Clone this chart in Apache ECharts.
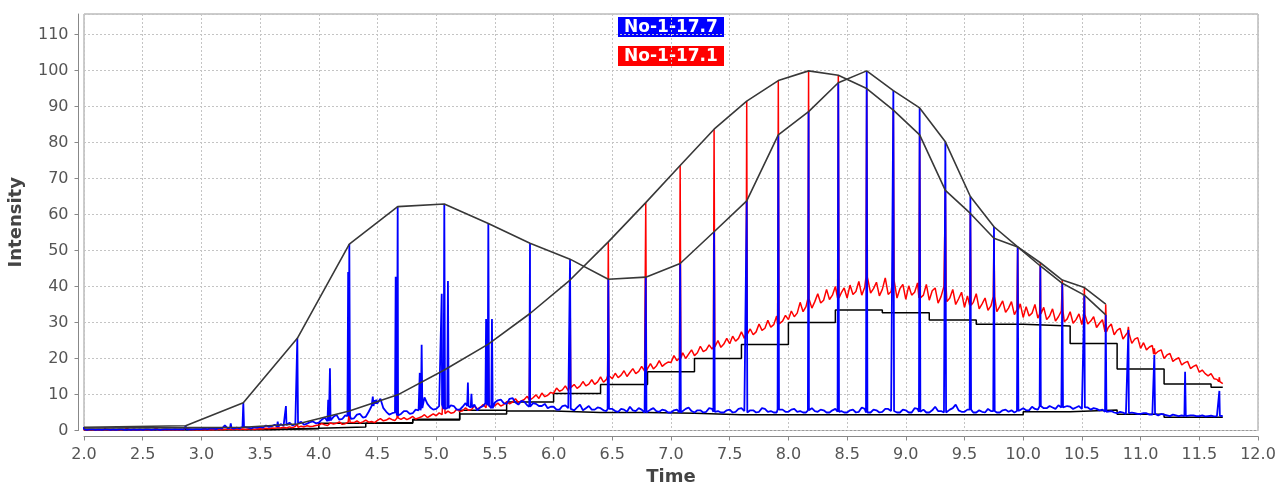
<!DOCTYPE html>
<html>
<head>
<meta charset="utf-8">
<script src="https://cdn.jsdelivr.net/npm/echarts@6/dist/echarts.min.js"></script>
<style>
  html, body { margin: 0; padding: 0; background: #fff; }
  #main { width: 1287px; height: 487px; }
</style>
</head>
<body>
<div id="main"></div>
<script>
// baselines, one reading every 0.025 time units from 2.000 to 11.700
const sampleStart = 2.0
const sampleStep = 0.025

const blueBase = [
  0.3, 0.2, 0.3, 0.3, 0.2, 0.3, 0.2, 0.3, 0.3, 0.2, 0.3, 0.2, 0.3, 0.3, 0.2, 0.3, 0.2, 0.3, 0.2, 0.3,
  0.2, 0.3, 0.3, 0.2, 0.3, 0.3, 0.2, 0.3, 0.4, 0.3, 0.3, 0.4, 0.3, 0.4, 0.3, 0.3, 0.4, 0.3, 0.4, 0.4,
  0.4, 0.5, 0.4, 0.5, 0.6, 0.4, 0.7, 0.5, 1.4, 0.6, 0.7, 0.5, 0.8, 0.6, 1.0, 0.7, 0.8, 0.6, 0.9, 0.8,
  1.0, 0.8, 1.4, 1.0, 1.2, 1.6, 1.1, 1.8, 1.3, 1.5, 2.2, 1.4, 1.7, 2.0, 2.4, 1.6, 1.9, 2.3, 2.5, 2.0,
  2.2, 3.0, 3.6, 2.6, 2.8, 3.8, 4.4, 3.0, 3.2, 4.2, 4.0, 3.2, 3.4, 4.4, 4.6, 3.6, 3.8, 5.2, 6.8, 8.4,
  7.4, 8.8, 6.2, 5.2, 4.4, 4.8, 5.0, 4.2, 4.6, 5.4, 5.4, 4.6, 4.8, 5.8, 5.6, 6.2, 9.2, 7.4, 6.4, 5.8,
  6.0, 6.8, 7.2, 6.0, 6.2, 7.0, 6.8, 5.8, 5.8, 6.6, 7.6, 6.8, 6.4, 7.2, 5.6, 6.4, 6.8, 7.6, 7.0, 6.2,
  7.8, 8.4, 8.6, 7.6, 7.4, 8.8, 9.0, 7.8, 7.2, 8.2, 8.0, 7.0, 6.6, 7.6, 7.4, 6.8, 6.8, 7.4, 6.2, 6.6,
  6.6, 5.8, 5.8, 6.8, 7.0, 6.2, 6.0, 5.6, 6.4, 7.2, 5.6, 6.2, 6.8, 5.8, 5.8, 6.4, 6.2, 5.6, 5.4, 6.0,
  6.0, 5.4, 5.2, 6.0, 5.8, 5.2, 6.6, 5.6, 5.4, 6.2, 5.8, 5.0, 5.0, 5.8, 6.2, 5.4, 5.2, 5.8, 5.6, 5.0,
  5.0, 5.6, 5.8, 5.0, 5.2, 6.0, 6.4, 5.4, 5.0, 5.6, 5.6, 5.0, 5.2, 6.2, 6.0, 5.2, 5.4, 5.0, 5.0, 5.6,
  5.8, 5.0, 5.2, 6.0, 6.2, 5.4, 5.0, 5.6, 5.6, 5.0, 5.2, 6.2, 6.0, 5.2, 5.4, 5.0, 5.0, 5.8, 5.8, 5.2,
  5.2, 5.8, 6.0, 5.2, 5.4, 5.0, 5.0, 5.6, 6.2, 5.4, 5.2, 5.8, 5.6, 5.0, 5.0, 5.6, 6.0, 5.2, 5.4, 5.0,
  5.0, 5.6, 5.8, 5.0, 5.2, 6.4, 6.0, 5.0, 5.0, 5.8, 5.6, 5.0, 5.2, 6.0, 6.0, 5.4, 5.4, 5.0, 5.0, 5.8,
  5.6, 5.0, 5.0, 6.2, 6.0, 5.2, 5.8, 5.0, 5.0, 5.6, 6.6, 5.4, 5.4, 5.0, 5.0, 5.8, 6.2, 7.2, 5.6, 5.2,
  5.2, 5.8, 5.8, 5.0, 5.0, 5.6, 5.2, 5.0, 6.0, 5.4, 5.4, 5.0, 5.0, 5.6, 5.8, 5.2, 5.6, 5.0, 5.4, 5.8,
  6.2, 5.6, 5.6, 6.6, 6.0, 5.8, 6.8, 6.2, 6.2, 6.8, 6.4, 6.0, 7.0, 6.4, 6.2, 6.8, 6.6, 6.0, 6.4, 6.8,
  6.0, 6.4, 6.4, 5.8, 6.2, 6.0, 5.6, 5.8, 5.2, 5.6, 5.4, 5.0, 4.8, 5.2, 5.0, 4.6, 4.8, 5.0, 4.8, 4.6,
  4.6, 4.8, 4.8, 4.4, 4.4, 4.6, 4.2, 4.6, 4.4, 4.2, 4.0, 4.4, 4.2, 4.0, 4.2, 4.0, 4.0, 4.2, 4.2, 4.0,
  4.0, 4.2, 3.9, 4.0, 4.1, 3.9, 4.0, 4.1, 4.0
]

const redBase = [
  0.2, 0.3, 0.2, 0.2, 0.3, 0.2, 0.3, 0.2, 0.2, 0.3, 0.2, 0.2, 0.3, 0.2, 0.3, 0.2, 0.2, 0.3, 0.2, 0.2,
  0.2, 0.3, 0.2, 0.2, 0.3, 0.2, 0.2, 0.3, 0.2, 0.3, 0.2, 0.2, 0.3, 0.2, 0.2, 0.3, 0.2, 0.3, 0.2, 0.2,
  0.2, 0.3, 0.2, 0.3, 0.2, 0.3, 0.3, 0.2, 0.3, 0.4, 0.3, 0.3, 0.4, 0.3, 0.4, 0.3, 0.4, 0.5, 0.3, 0.4,
  0.5, 0.4, 0.6, 0.5, 0.7, 0.6, 0.8, 0.7, 0.9, 0.7, 1.0, 0.8, 1.1, 0.9, 1.2, 1.0, 1.3, 1.1, 1.2, 1.4,
  1.5, 1.9, 1.6, 1.4, 2.1, 1.8, 2.0, 2.4, 1.7, 1.9, 2.3, 2.0, 2.2, 2.7, 2.1, 2.4, 2.9, 2.3, 2.5, 2.2,
  2.8, 3.3, 2.7, 2.9, 3.4, 3.0, 2.8, 3.5, 3.1, 3.6, 3.0, 3.4, 3.9, 3.2, 3.5, 3.8, 4.4, 3.6, 4.1, 4.6,
  4.1, 4.9, 4.4, 4.7, 5.4, 4.8, 5.0, 5.9, 5.3, 5.5, 6.3, 5.6, 5.8, 6.8, 6.0, 6.4, 7.2, 6.3, 6.7, 6.5,
  6.9, 7.6, 6.8, 7.2, 8.0, 7.4, 7.9, 8.8, 7.8, 8.2, 8.6, 9.5, 8.5, 9.1, 9.9, 8.9, 10.4, 9.4, 9.8, 10.6,
  10.3, 11.8, 10.9, 11.3, 12.4, 11.1, 11.9, 12.8, 11.7, 12.3, 13.6, 12.4, 12.9, 14.1, 12.8, 13.5, 14.9, 13.4, 14.2, 15.2,
  14.4, 15.9, 14.7, 15.4, 16.6, 15.0, 16.1, 17.2, 15.8, 16.4, 17.8, 16.5, 17.2, 18.6, 17.1, 17.9, 19.4, 17.8, 18.5, 19.0,
  18.9, 20.8, 19.4, 20.1, 21.6, 20.0, 21.2, 22.4, 20.8, 21.6, 23.4, 21.9, 22.4, 23.8, 22.6, 23.2, 25.0, 23.1, 24.0, 25.6,
  24.1, 26.2, 24.8, 25.6, 27.4, 25.6, 26.8, 28.2, 26.6, 27.4, 29.6, 27.8, 28.4, 30.6, 28.7, 29.4, 31.8, 29.6, 30.4, 32.0,
  30.8, 33.2, 31.6, 32.6, 35.6, 33.0, 34.4, 36.6, 34.0, 35.8, 38.0, 35.4, 36.2, 39.2, 36.4, 37.6, 40.0, 36.8, 38.2, 39.6,
  36.8, 40.4, 37.8, 38.6, 41.4, 37.6, 39.8, 42.6, 38.2, 39.4, 41.2, 37.4, 39.2, 42.4, 37.8, 38.6, 41.8, 36.8, 39.4, 40.6,
  36.4, 40.2, 37.6, 38.4, 41.0, 36.8, 37.6, 40.6, 36.2, 38.8, 39.6, 35.4, 37.2, 40.0, 35.8, 36.8, 39.2, 35.0, 36.6, 38.4,
  34.2, 37.4, 34.8, 35.6, 38.0, 33.8, 35.2, 36.8, 33.4, 34.6, 37.2, 33.0, 34.4, 36.0, 32.8, 34.0, 35.8, 32.2, 33.6, 35.2,
  31.4, 34.4, 31.8, 32.6, 35.0, 31.2, 32.4, 34.2, 30.8, 31.8, 33.8, 30.4, 31.6, 33.2, 30.2, 31.0, 33.0, 29.8, 30.8, 32.4,
  29.4, 32.2, 29.6, 30.4, 31.6, 28.6, 29.8, 30.8, 27.4, 28.6, 29.6, 26.6, 27.8, 28.4, 25.4, 26.6, 27.2, 24.2, 25.4, 25.8,
  22.8, 24.4, 22.4, 23.2, 23.6, 21.2, 22.0, 22.4, 20.0, 21.0, 21.4, 19.2, 19.8, 20.2, 18.2, 18.8, 19.2, 17.2, 17.8, 18.2,
  16.2, 16.8, 15.8, 15.2, 15.8, 14.4, 14.2, 13.6, 13.0
]

// the regular peaks, same times in both runs
const spikeTimes = [
  2.0, 2.866, 3.357, 3.817, 4.260, 4.672, 5.069, 5.444, 5.799, 6.140,
  6.466, 6.785, 7.078, 7.367, 7.645, 7.914, 8.172, 8.425, 8.667, 8.894,
  9.118, 9.337, 9.550, 9.751, 9.953, 10.146, 10.333, 10.521, 10.703, 10.896,
  11.117, 11.379, 11.671
]
const blueTops = [
  0.9, 1.3, 7.7, 25.6, 51.8, 62.2, 62.9, 57.5, 52.0, 47.6,
  42.0, 42.6, 46.4, 55.2, 63.8, 82.1, 88.6, 96.6, 99.9, 94.4,
  89.6, 80.2, 65.0, 56.6, 51.0, 45.7, 40.9, 37.6, 32.1, 27.9,
  21.0, 16.3, 11.0
]
const redTops = [
  0.7, 0.8, 0.9, 1.8, 5.4, 9.9, 16.8, 24.0, 32.5, 41.8,
  52.4, 63.3, 73.6, 83.7, 91.5, 97.2, 99.9, 98.7, 95.0, 89.0,
  82.1, 66.7, 60.3, 53.4, 51.0, 46.6, 41.8, 39.7, 35.1, 28.8,
  22.8, 18.8, 14.8
]
// the black outlines join the first peaks only
const envelopeCount = 29

// smaller peaks
const blueExtraTimes = [3.25, 3.65, 3.72, 4.08, 4.095, 4.25, 4.46, 4.49, 4.535, 4.655, 4.86, 4.876, 5.047, 5.10, 5.27, 5.30, 5.425, 5.475]
const blueExtraTops = [2.0, 2.5, 6.8, 8.5, 17.3, 44.0, 9.4, 8.6, 9.3, 42.7, 16.0, 23.8, 38.0, 41.5, 13.3, 10.2, 31.0, 31.0]
const redExtraTimes = [2.18, 2.37, 2.51, 2.62]
const redExtraTops = [0.8, 0.8, 0.7, 0.8]

// step levels
const stepStarts = [2.0, 2.4, 2.8, 3.2, 3.6, 4.0, 4.4, 4.8, 5.2, 5.6, 6.0, 6.4, 6.8, 7.2, 7.6, 8.0, 8.4, 8.8, 9.2, 9.6, 10.0, 10.4, 10.8, 11.2, 11.6]
const stepEnd = 11.7
const redSteps = [0.2, 0.2, 0.2, 0.3, 0.6, 1.0, 2.0, 2.9, 5.6, 7.9, 10.3, 12.8, 16.3, 20.0, 23.9, 30.0, 33.5, 32.7, 30.7, 29.5, 29.0, 24.2, 17.1, 12.9, 12.0]
const blueSteps = [0.3, 0.3, 0.3, 0.3, 0.5, 2.0, 2.2, 3.1, 4.6, 5.4, 5.0, 5.0, 4.8, 4.4, 4.4, 4.4, 4.4, 4.4, 4.4, 4.4, 5.2, 5.7, 4.5, 3.7, 3.7]

const fontFamily = 'DejaVu Sans'

function trace(base, times, tops, extraTimes, extraTops) {
  let pts = base.map((v, i) => [+(sampleStart + i * sampleStep).toFixed(3), v])
  let add = (t, h) => {
    let b = base[Math.min(base.length - 1, Math.round((t - sampleStart) / sampleStep))]
    pts.push([t - 0.006, b], [t, h], [t + 0.006, b])
  }
  times.forEach((t, i) => add(t, tops[i]))
  extraTimes.forEach((t, i) => add(t, extraTops[i]))
  return pts.sort((a, b) => a[0] - b[0])
}

function steps(levels) {
  let pts = stepStarts.map((x, i) => [x, levels[i]])
  pts.push([stepEnd, levels[levels.length - 1]])
  return pts
}

function envelope(tops) {
  return spikeTimes.slice(0, envelopeCount).map((t, i) => [t, tops[i]])
}

let lineSeries = (data, color, width, z, step) => ({
  type: 'line', data, step, z, symbol: 'none', silent: true, smooth: false,
  lineStyle: {color, width}
})

let chart = echarts.init(document.getElementById('main'))
chart.setOption({
  animation: false,
  backgroundColor: '#fff',
  grid: {left: 84, right: 29, top: 14, bottom: 56.5, containLabel: false, outerBoundsMode: 'none',
    show: true, borderColor: '#999', borderWidth: 1, backgroundColor: '#fff'},
  xAxis: {
    type: 'value', min: 2, max: 12, interval: 0.5, offset: 6,
    name: 'Time', nameLocation: 'middle', nameGap: 32,
    nameTextStyle: {fontFamily, fontSize: 18, fontWeight: 'bold', color: '#444'},
    axisLine: {onZero: false, lineStyle: {color: '#888'}},
    axisTick: {length: 4, lineStyle: {color: '#888'}},
    axisLabel: {color: '#555', fontSize: 16, fontFamily, margin: 10, formatter: v => v.toFixed(1)},
    splitLine: {lineStyle: {color: '#c4c4c4', type: [2, 2]}}
  },
  yAxis: {
    type: 'value', min: 0, max: 115.7, interval: 10, offset: 5.5,
    name: 'Intensity', nameLocation: 'middle', nameGap: 53,
    nameTextStyle: {fontFamily, fontSize: 18, fontWeight: 'bold', color: '#444'},
    axisLine: {show: true, onZero: false, lineStyle: {color: '#888'}},
    axisTick: {show: true, length: 4, lineStyle: {color: '#888'}},
    axisLabel: {color: '#555', fontSize: 16, fontFamily, margin: 10, showMaxLabel: false,
      formatter: v => (v % 10 === 0 ? String(v) : '')},
    splitLine: {lineStyle: {color: '#c4c4c4', type: [2, 2]}}
  },
  graphic: [
    {type: 'rect', shape: {x: 618, y: 17, width: 106, height: 20}, style: {fill: '#0000ff'}},
    {type: 'text', x: 671, y: 27.5, style: {text: 'No-1-17.7', fill: '#fff', font: 'bold 17px "DejaVu Sans"', align: 'center', verticalAlign: 'middle'}},
    {type: 'rect', shape: {x: 618, y: 46, width: 106, height: 20}, style: {fill: '#ff0000'}},
    {type: 'text', x: 671, y: 56.5, style: {text: 'No-1-17.1', fill: '#fff', font: 'bold 17px "DejaVu Sans"', align: 'center', verticalAlign: 'middle'}}
  ],
  series: [
    lineSeries(steps(redSteps), '#000', 1.5, 2, 'end'),
    lineSeries(steps(blueSteps), '#000', 1.5, 2, 'end'),
    lineSeries(trace(redBase, spikeTimes, redTops, redExtraTimes, redExtraTops), '#ff0000', 1.5, 3),
    lineSeries(trace(blueBase, spikeTimes, blueTops, blueExtraTimes, blueExtraTops), '#0000ff', 1.8, 4),
    lineSeries(envelope(blueTops), '#383838', 1.6, 5),
    lineSeries(envelope(redTops), '#383838', 1.6, 5)
  ]
})
</script>
</body>
</html>
